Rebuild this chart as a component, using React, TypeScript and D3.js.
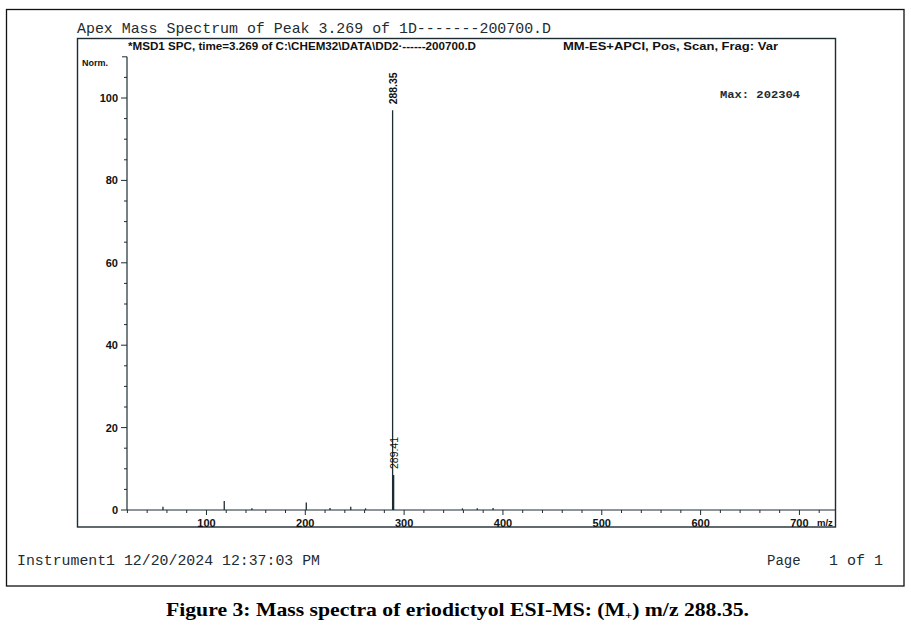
import React from "react";
import * as d3 from "d3";

const peakMz = [56, 118, 146, 201, 225, 246, 261, 288.35, 289.41, 359, 374, 390];
const peakIntensity = [0.8, 2.2, 0.4, 1.8, 0.5, 0.8, 0.4, 97, 8.5, 0.4, 0.4, 0.5];
const peakLabels = ["", "", "", "", "", "", "", "288.35", "289.41", "", "", ""];
const yTickLabels = [0, 20, 40, 60, 80, 100];
const xTickLabels = [100, 200, 300, 400, 500, 600, 700];

const titleText = "Apex Mass Spectrum of Peak 3.269 of 1D-------200700.D";
const subLeft = "*MSD1 SPC, time=3.269 of C:\\CHEM32\\DATA\\DD2·------200700.D";
const subRight = "MM-ES+APCI, Pos, Scan, Frag: Var";
const maxText = "Max: 202304";
const footerLeft = "Instrument1 12/20/2024 12:37:03 PM";

export default function App() {
  const W = 911, H = 631;
  const ink = "#1d2c33";
  const x = d3.scaleLinear().domain([19.6, 737]).range([127, 836]);
  const y = d3.scaleLinear().domain([0, 110]).range([510, 56.8]);
  const yMinor = d3.range(0, 111, 5);
  const xMinor = d3.range(20, 737, 20);
  const mono = "'Liberation Mono', 'DejaVu Sans Mono', monospace";
  const sans = "'Liberation Sans', Arial, sans-serif";

  return (
    <svg width={W} height={H} style={{ position: "absolute", left: 0, top: 0, background: "#fff" }}>
      <rect x={0} y={0} width={W} height={H} fill="#fff" />
      {/* outer border */}
      <rect x={6.5} y={9.5} width={897.5} height={576.5} fill="none" stroke="#111" strokeWidth={1.3} />
      {/* title */}
      <text x={77} y={33} fontFamily={mono} fontSize={15} fill={ink} textLength={474} lengthAdjust="spacingAndGlyphs">{titleText}</text>
      {/* plot frame */}
      <rect x={77.5} y={38.5} width={758} height={488.5} fill="none" stroke={ink} strokeWidth={1.4} />
      <text x={128} y={50} fontFamily={sans} fontWeight="bold" fontSize={10.5} fill="#111" textLength={348} lengthAdjust="spacingAndGlyphs">{subLeft}</text>
      <text x={563} y={50} fontFamily={sans} fontWeight="bold" fontSize={10.5} fill="#111" textLength={215} lengthAdjust="spacingAndGlyphs">{subRight}</text>
      {/* y axis */}
      <text x={82} y={66} fontFamily={sans} fontWeight="bold" fontSize={9} fill="#111">Norm.</text>
      <line x1={127} x2={127} y1={y(110)} y2={y(0)} stroke={ink} strokeWidth={1.2} />
      {yMinor.map((v) => {
        const major = v % 20 === 0;
        const len = major ? 6 : v === 110 ? 5 : 3;
        return <line key={"ym" + v} x1={127 - len} x2={127} y1={y(v)} y2={y(v)} stroke={ink} strokeWidth={1} />;
      })}
      {yTickLabels.map((v) => (
        <text key={"yl" + v} x={118} y={y(v) + 4} textAnchor="end" fontFamily={sans} fontWeight="bold" fontSize={11} fill="#111">{v}</text>
      ))}
      {/* x axis */}
      <line x1={127} x2={836} y1={y(0)} y2={y(0)} stroke={ink} strokeWidth={1.2} />
      {xMinor.map((v) => {
        const major = v % 100 === 0;
        return <line key={"xm" + v} x1={x(v)} x2={x(v)} y1={y(0)} y2={y(0) + (major ? 5 : 3)} stroke={ink} strokeWidth={1} />;
      })}
      {xTickLabels.map((v) => (
        <text key={"xl" + v} x={x(v)} y={527} textAnchor="middle" fontFamily={sans} fontWeight="bold" fontSize={11} fill="#111">{v}</text>
      ))}
      <text x={817} y={526} fontFamily={sans} fontWeight="bold" fontSize={9.5} fill="#111">m/z</text>
      {/* peaks */}
      {peakMz.map((m, i) => (
        <line key={"p" + i} x1={x(m)} x2={x(m)} y1={y(0)} y2={y(peakIntensity[i])} stroke={ink} strokeWidth={1.3} />
      ))}
      {peakMz.map((m, i) =>
        peakLabels[i] ? (
          <text key={"pl" + i} transform={`translate(${x(m) + 4.5},${y(peakIntensity[i]) - 6}) rotate(-90)`}
            fontFamily={sans} fontWeight={i === 7 ? "bold" : "normal"} fontSize={11.5} fill="#111" textLength={32} lengthAdjust="spacingAndGlyphs">
            {peakLabels[i]}
          </text>
        ) : null
      )}
      <text x={720} y={98} fontFamily={mono} fontWeight="bold" fontSize={10.5} fill={ink} textLength={80} lengthAdjust="spacingAndGlyphs">{maxText}</text>
      {/* footer */}
      <text x={17} y={565} fontFamily={mono} fontSize={14} fill={ink} textLength={303} lengthAdjust="spacingAndGlyphs">{footerLeft}</text>
      <text x={767} y={565} fontFamily={mono} fontSize={14} fill={ink}>Page</text>
      <text x={829} y={565} fontFamily={mono} fontSize={14} fill={ink} textLength={54} lengthAdjust="spacingAndGlyphs">1 of 1</text>
      {/* caption */}
      <text x={166} y={616} fontFamily="'Liberation Serif', 'Times New Roman', serif" fontWeight="bold" fontSize={19} fill="#000" textLength={583} lengthAdjust="spacingAndGlyphs">
        Figure 3: Mass spectra of eriodictyol ESI-MS: (M<tspan fontSize={11} dy={3}>+</tspan><tspan dy={-3}>) m/z 288.35.</tspan>
      </text>
    </svg>
  );
}
